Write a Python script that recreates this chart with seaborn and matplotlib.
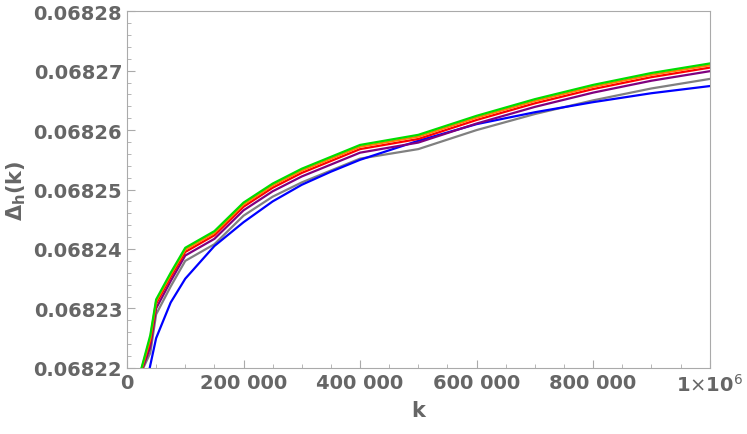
import matplotlib
matplotlib.use("Agg")
import matplotlib.pyplot as plt
import seaborn as sns
import pandas as pd
from matplotlib.ticker import MultipleLocator, FixedLocator

k_grid = [30e3, 40e3, 50e3, 75e3, 100e3, 150e3, 200e3, 250e3, 300e3, 350e3, 400e3,
          500e3, 600e3, 700e3, 800e3, 900e3, 1e6]
start_k = {"blue": 39e3, "gray": 28e3, "purple": 27e3, "red": 26e3, "orange": 25.5e3, "green": 25e3}
# offsets above 0.06822 in units of 1e-5
blue   = [0, .5, 1.1, 1.5, 2.05, 2.45, 2.8, 3.08, 3.3, 3.5, 3.82, 4.1, 4.3, 4.47, 4.62, 4.74]
gray   = [0, .25, .9, 1.37, 1.8, 2.08, 2.56, 2.88, 3.12, 3.32, 3.52, 3.68, 4.0, 4.27, 4.5, 4.7, 4.86, 5.01]
purple = [0, .35, 1.0, 1.46, 1.89, 2.17, 2.65, 2.97, 3.22, 3.42, 3.62, 3.79, 4.11, 4.39, 4.63, 4.83, 4.99, 5.14]
red    = [0, .45, 1.08, 1.53, 1.95, 2.23, 2.71, 3.03, 3.28, 3.48, 3.68, 3.85, 4.17, 4.45, 4.69, 4.89, 5.05, 5.2]
orange = [0, .5, 1.12, 1.57, 1.99, 2.27, 2.75, 3.07, 3.32, 3.52, 3.72, 3.89, 4.21, 4.49, 4.73, 4.93, 5.09, 5.24]
green  = [0, .55, 1.15, 1.6, 2.02, 2.3, 2.78, 3.1, 3.35, 3.55, 3.75, 3.92, 4.24, 4.52, 4.76, 4.96, 5.12, 5.27]
series = {"gray": gray, "blue": blue, "purple": purple, "red": red, "orange": orange, "green": green}
colors = {"gray": "#808080", "blue": "#0000ff", "purple": "#800080", "red": "#ff0000",
          "orange": "#ff8000", "green": "#00dd00"}

rows = []
for name, vals in series.items():
    grid = [g for g in k_grid if g > start_k[name] + 5e3]
    ks = [start_k[name]] + grid
    for kk, v in zip(ks, vals):
        rows.append({"k": kk, "D": 0.06822 + v * 1e-5, "s": name})
df = pd.DataFrame(rows)

fig = plt.figure(figsize=(7.47, 4.35), dpi=100)
ax = fig.add_axes([0.17, 0.152, 0.78, 0.82])
sns.lineplot(data=df, x="k", y="D", hue="s", palette=colors, ax=ax, legend=False, linewidth=1.6)

ax.set_xlim(0, 1e6)
ax.set_ylim(0.06822, 0.06828)
gc = "#666666"
for sp in ax.spines.values():
    sp.set_color("#aaaaaa")
ax.xaxis.set_major_locator(FixedLocator([0, 2e5, 4e5, 6e5, 8e5, 1e6]))
ax.xaxis.set_minor_locator(MultipleLocator(5e4))
ax.yaxis.set_major_locator(MultipleLocator(1e-5))
ax.yaxis.set_minor_locator(MultipleLocator(2e-6))
ax.set_xticklabels(["0", "200 000", "400 000", "600 000", "800 000", r"1$\times$10$^{6}$"])
ax.set_yticklabels([f"{v:.5f}" for v in ax.get_yticks()])
ax.tick_params(direction="in", which="both", colors="#aaaaaa", labelcolor=gc, labelsize=14)
ax.tick_params(which="major", length=6)
ax.tick_params(which="minor", length=3)
for lab in ax.get_xticklabels() + ax.get_yticklabels():
    lab.set_fontweight("bold")
ax.set_xlabel("k", fontsize=15, fontweight="bold", color=gc)
ax.set_ylabel(r"$\mathbf{\Delta_h(k)}$", fontsize=15, color=gc)
fig.savefig("out.png", dpi=100)
